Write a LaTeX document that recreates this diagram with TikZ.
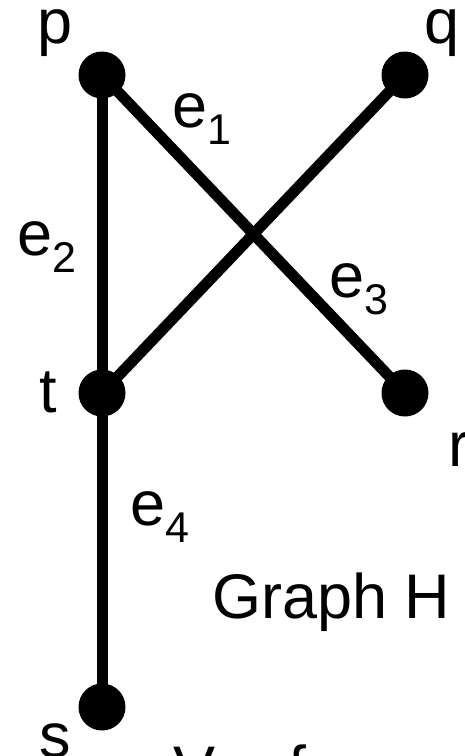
\documentclass[tikz,border=0pt]{standalone}
\usepackage{fontspec}
\setmainfont{Liberation Sans}
\newcommand{\lbl}[2]{#1\raisebox{-17pt}{\fontsize{43}{50}\selectfont #2}}
\begin{document}
\begin{tikzpicture}[x=1pt,y=-1pt,
  vtx/.style={circle,fill=black,inner sep=0pt,minimum size=47pt},
  edge/.style={line width=11pt},
  txt/.style={inner sep=0pt,anchor=base west,font=\fontsize{63}{75}\selectfont}]
\useasboundingbox (0,0) rectangle (465,756);
\node[vtx] (p) at (102,75) {};
\node[vtx] (q) at (405,75) {};
\node[vtx] (t) at (102,393) {};
\node[vtx] (r) at (405,393) {};
\node[vtx] (s) at (102,707) {};
\draw[edge] (p.center) -- (t.center);
\draw[edge] (p.center) -- (r.center);
\draw[edge] (q.center) -- (t.center);
\draw[edge] (t.center) -- (s.center);
\node[txt] (lp) at (37,43) {p};
\node[txt] (lq) at (424,43) {q};
\node[txt] (lt) at (39,412) {t};
\node[txt] (lr) at (448,466) {r};
\node[txt] (ls) at (39,757) {s};
\node[txt] (e1) at (172,127) {\lbl{e}{1}};
\node[txt] (e2) at (17,255) {\lbl{e}{2}};
\node[txt] (e3) at (329,297) {\lbl{e}{3}};
\node[txt] (e4) at (130,525) {\lbl{e}{4}};
\node[txt] (title) at (212,618) {Graph H};
\node[txt] (vset) at (173,790) {V = \{p, q, r, s, t\}};
\end{tikzpicture}
\end{document}
